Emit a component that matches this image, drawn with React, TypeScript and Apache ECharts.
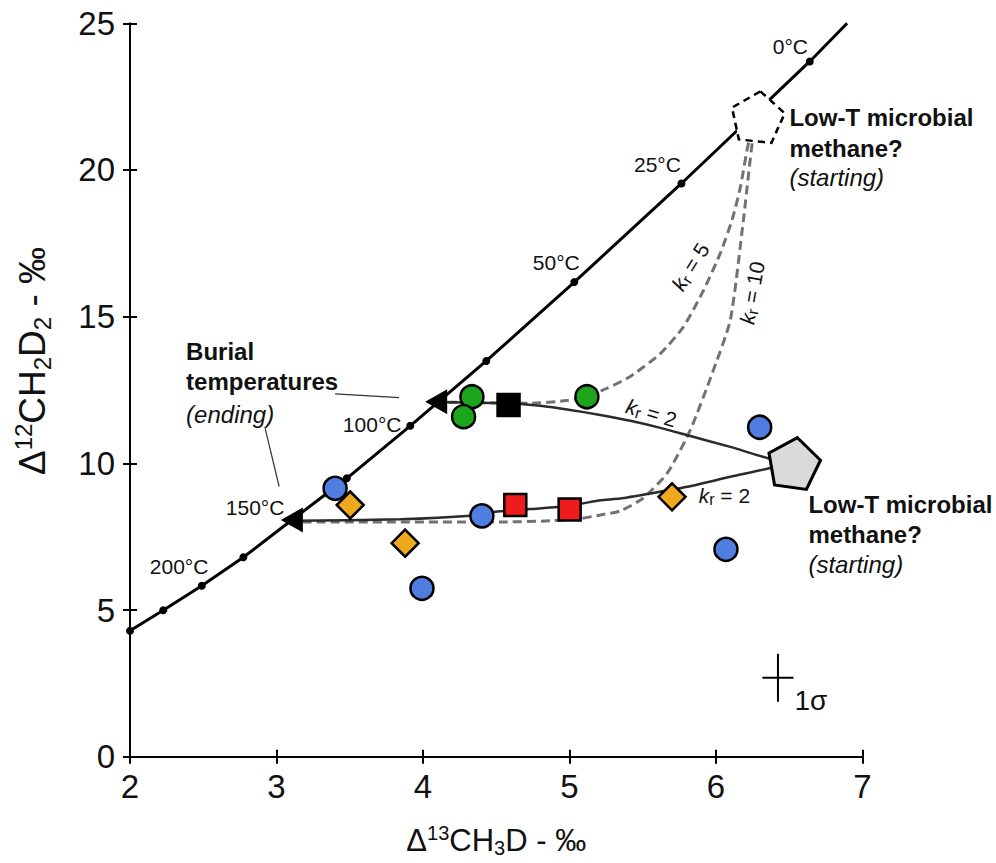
import React, { useEffect, useRef } from 'react';
import * as echarts from 'echarts';

const FONT = '"Liberation Sans", Arial, Helvetica, sans-serif';

// Axis ranges / ticks
const X_MIN = 2, X_MAX = 7, X_STEP = 1;
const Y_MIN = 0, Y_MAX = 25, Y_STEP = 5;

// Equilibrium line (temperature points)
const EQ_TEMPS = [0, 25, 50, 75, 100, 125, 150, 175, 200, 225, 250];
const EQ_X = [6.640, 5.764, 5.033, 4.432, 3.913, 3.480, 3.105, 2.774, 2.490, 2.227, 2.000];
const EQ_Y = [23.70, 19.54, 16.18, 13.49, 11.28, 9.49, 8.07, 6.80, 5.83, 4.99, 4.29];
const EQ_END = [6.895, 25.0];

// Mixing / reordering trajectories (start -> end)
const KR2_UP_X = [6.508, 6.372, 6.098, 5.825, 5.620, 5.415, 5.210, 5.005, 4.801, 4.589, 4.090];
const KR2_UP_Y = [10.05, 10.15, 10.56, 10.93, 11.21, 11.45, 11.65, 11.82, 11.96, 12.04, 12.09];
const KR2_LO_X = [6.508, 6.372, 6.098, 5.805, 5.572, 5.347, 5.210, 5.074, 4.917, 4.732, 4.493, 4.322, 3.844, 3.113];
const KR2_LO_Y = [10.05, 9.84, 9.54, 9.20, 8.99, 8.80, 8.74, 8.62, 8.51, 8.44, 8.35, 8.21, 8.09, 8.04];
const KR5_X = [6.285, 6.224, 6.167, 6.110, 6.030, 5.916, 5.779, 5.622, 5.415, 5.256, 5.119, 4.983, 4.732, 4.090];
const KR5_Y = [21.83, 20.97, 19.43, 18.30, 17.17, 15.91, 14.66, 13.75, 12.96, 12.56, 12.27, 12.14, 12.05, 12.09];
const KR10_X = [6.285, 6.249, 6.187, 6.098, 5.975, 5.825, 5.668, 5.504, 5.347, 5.210, 5.074, 4.869, 4.527, 3.105];
const KR10_Y = [21.83, 20.99, 18.29, 14.89, 13.08, 11.14, 9.67, 8.82, 8.38, 8.24, 8.12, 8.04, 8.00, 8.00];

// Samples
const GREEN_X = [4.334, 4.277, 5.119];
const GREEN_Y = [12.27, 11.59, 12.27];
const BLACK_SQ_X = [4.584];
const BLACK_SQ_Y = [11.99];
const RED_SQ_X = [4.630, 5.001];
const RED_SQ_Y = [8.58, 8.43];
const BLUE_X = [3.400, 4.402, 3.993, 6.298, 6.068];
const BLUE_Y = [9.15, 8.21, 5.74, 11.23, 7.07];
const YELLOW_X = [3.503, 3.878, 5.700];
const YELLOW_Y = [8.58, 7.28, 8.86];

// End-members
const BURIAL_X = [4.090, 3.105];
const BURIAL_Y = [12.10, 8.07];
const LOWT_DASHED = [6.285, 21.83];
const LOWT_GRAY = [6.532, 10.03];

// 1 sigma error bar
const SIGMA_CENTER = [6.423, 2.69];
const SIGMA_HALF_X = 0.106;
const SIGMA_HALF_Y = 0.82;

// Annotation texts and anchors (data coordinates)
const TEMP_LABELS = ['0°C', '25°C', '50°C', '100°C', '150°C', '200°C'];
const TEMP_LABEL_X = [6.508, 5.600, 4.910, 3.653, 2.854, 2.335];
const TEMP_LABEL_Y = [24.21, 20.17, 16.83, 11.31, 8.48, 6.47];

const BURIAL_TEXT = ['Burial', 'temperatures', '(ending)'];
const BURIAL_TEXT_X = 2.383;
const BURIAL_TEXT_Y = [13.80, 12.79, 11.68];

const LOWT_TEXT = ['Low-T microbial', 'methane?', '(starting)'];
const LOWT1_TEXT_X = 6.501;
const LOWT1_TEXT_Y = [21.78, 20.72, 19.73];
const LOWT2_TEXT_X = 6.631;
const LOWT2_TEXT_Y = [8.58, 7.56, 6.54];

const KR_VALUES = ['2', '2', '5', '10'];
const KR_LABEL_X = [5.559, 6.057, 5.825, 6.246];
const KR_LABEL_Y = [11.72, 8.89, 16.70, 15.81];
const KR_LABEL_ROT = [-17, 0, 58, 80];

const LEADER1 = [[3.400, 12.37], [3.837, 12.24]];
const LEADER2 = [[2.922, 11.20], [3.018, 9.21]];

const PENTAGON = 'path://M0,-1 L0.951,-0.309 L0.588,0.809 L-0.588,0.809 L-0.951,-0.309 Z';

const zip = (xs: number[], ys: number[]) => xs.map((x, i) => [x, ys[i]]);

function makeOption() {
  const eqData: any[] = EQ_X.map((x, i) => ({ value: [x, EQ_Y[i]], name: EQ_TEMPS[i] + '°C' }));
  eqData.unshift({ value: EQ_END, symbol: 'none' });

  const axisLineStyle = { color: '#000', width: 2 };
  const textBase = { fontFamily: FONT, color: '#111' };

  const labelPoint = (x: number, y: number, label: any) => ({
    value: [x, y],
    label: { show: true, position: 'inside', verticalAlign: 'middle', fontFamily: FONT, color: '#111', opacity: 1, ...label },
  });

  const annotations: any[] = [];
  TEMP_LABELS.forEach((t, i) =>
    annotations.push(labelPoint(TEMP_LABEL_X[i], TEMP_LABEL_Y[i], { formatter: t, align: 'center', fontSize: 21 }))
  );
  BURIAL_TEXT.forEach((t, i) =>
    annotations.push(
      labelPoint(BURIAL_TEXT_X, BURIAL_TEXT_Y[i], {
        formatter: t,
        align: 'left',
        fontSize: 24,
        fontWeight: i < 2 ? 'bold' : 'normal',
        fontStyle: i < 2 ? 'normal' : 'italic',
      })
    )
  );
  LOWT_TEXT.forEach((t, i) => {
    annotations.push(
      labelPoint(LOWT1_TEXT_X, LOWT1_TEXT_Y[i], {
        formatter: t, align: 'left', fontSize: 24,
        fontWeight: i < 2 ? 'bold' : 'normal', fontStyle: i < 2 ? 'normal' : 'italic',
      })
    );
    annotations.push(
      labelPoint(LOWT2_TEXT_X, LOWT2_TEXT_Y[i], {
        formatter: t, align: 'left', fontSize: 24,
        fontWeight: i < 2 ? 'bold' : 'normal', fontStyle: i < 2 ? 'normal' : 'italic',
      })
    );
  });
  KR_VALUES.forEach((v, i) =>
    annotations.push(
      labelPoint(KR_LABEL_X[i], KR_LABEL_Y[i], {
        formatter: `{k|k}{r|r}{t| = ${v}}`,
        align: 'center',
        rotate: KR_LABEL_ROT[i],
        rich: {
          k: { fontFamily: FONT, fontSize: 21, fontStyle: 'italic', color: '#111', lineHeight: 24 },
          r: { fontFamily: FONT, fontSize: 16, color: '#111', lineHeight: 16, verticalAlign: 'bottom' },
          t: { fontFamily: FONT, fontSize: 21, color: '#111', lineHeight: 24 },
        },
      })
    )
  );
  annotations.push(
    labelPoint(SIGMA_CENTER[0] + 0.112, SIGMA_CENTER[1] - 0.79, { formatter: '1σ', align: 'left', fontSize: 28 })
  );

  const markerBorder = { borderColor: '#000', borderWidth: 2.5, opacity: 1 };

  const axisNameRich = (big: number, small: number, lh: number, supLh: number) => ({
    m: { fontFamily: FONT, fontSize: big, color: '#111', lineHeight: lh },
    sup: { fontFamily: FONT, fontSize: small, color: '#111', lineHeight: supLh, verticalAlign: 'top' },
    sub: { fontFamily: FONT, fontSize: small, color: '#111', lineHeight: small, verticalAlign: 'bottom' },
  });

  return {
    animation: false,
    backgroundColor: '#ffffff',
    grid: { left: 130, right: 133.5, top: 23.3, bottom: 106.3, containLabel: false, outerBoundsMode: 'none' },
    xAxis: [
      {
        type: 'value', min: X_MIN, max: X_MAX, interval: X_STEP, position: 'bottom',
        axisLine: { show: true, onZero: false, lineStyle: axisLineStyle },
        axisTick: { show: true, inside: false, length: 7, lineStyle: axisLineStyle },
        axisLabel: { show: true, margin: 13, fontSize: 33, ...textBase },
        splitLine: { show: false },
        name: '{m|Δ}{sup|13}{m|CH}{sub|3}{m|D - ‰}',
        nameLocation: 'middle',
        nameGap: 66,
        nameTextStyle: { rich: axisNameRich(31, 20, 35, 18) },
      },
      {
        type: 'value', min: X_MIN, max: X_MAX, interval: X_STEP, position: 'bottom',
        axisLine: { show: false, onZero: false },
        axisTick: { show: true, inside: true, length: 7, lineStyle: axisLineStyle },
        axisLabel: { show: false },
        splitLine: { show: false },
      },
    ],
    yAxis: [
      {
        type: 'value', min: Y_MIN, max: Y_MAX, interval: Y_STEP, position: 'left',
        axisLine: { show: true, onZero: false, lineStyle: axisLineStyle },
        axisTick: { show: true, inside: false, length: 7, lineStyle: axisLineStyle },
        axisLabel: { show: true, margin: 15, fontSize: 33, ...textBase },
        splitLine: { show: false },
        name: '{m|Δ}{sup|12}{m|CH}{sub|2}{m|D}{sub|2}{m| - ‰}',
        nameLocation: 'middle',
        nameGap: 76,
        nameRotate: 90,
        nameTextStyle: { rich: axisNameRich(37, 24, 43, 24), padding: [0, 0, 0, 58] },
      },
      {
        type: 'value', min: Y_MIN, max: Y_MAX, interval: Y_STEP, position: 'left',
        axisLine: { show: false, onZero: false },
        axisTick: { show: true, inside: true, length: 7, lineStyle: axisLineStyle },
        axisLabel: { show: false },
        splitLine: { show: false },
      },
    ],
    series: [
      {
        name: 'equilibrium', type: 'line', z: 2, data: eqData,
        symbol: 'circle', symbolSize: 8, showAllSymbol: true,
        itemStyle: { color: '#000', opacity: 1 }, lineStyle: { color: '#000', width: 3 },
      },
      {
        name: 'kr5', type: 'line', z: 3, data: zip(KR5_X, KR5_Y), symbol: 'none', smooth: 0.2,
        lineStyle: { color: '#727272', width: 3, type: [9, 5] },
      },
      {
        name: 'kr10', type: 'line', z: 3, data: zip(KR10_X, KR10_Y), symbol: 'none', smooth: 0.2,
        lineStyle: { color: '#727272', width: 3, type: [9, 5] },
      },
      {
        name: 'kr2 upper', type: 'line', z: 3, data: zip(KR2_UP_X, KR2_UP_Y), symbol: 'none', smooth: 0.2,
        lineStyle: { color: '#2b2b2b', width: 2.5 },
      },
      {
        name: 'kr2 lower', type: 'line', z: 3, data: zip(KR2_LO_X, KR2_LO_Y), symbol: 'none', smooth: 0.2,
        lineStyle: { color: '#2b2b2b', width: 2.5 },
      },
      {
        name: 'leader1', type: 'line', z: 3, data: LEADER1, symbol: 'none',
        lineStyle: { color: '#333', width: 1.2 },
      },
      {
        name: 'leader2', type: 'line', z: 3, data: LEADER2, symbol: 'none',
        lineStyle: { color: '#333', width: 1.2 },
      },
      {
        name: 'sigma-v', type: 'line', z: 3, symbol: 'none',
        data: [[SIGMA_CENTER[0], SIGMA_CENTER[1] - SIGMA_HALF_Y], [SIGMA_CENTER[0], SIGMA_CENTER[1] + SIGMA_HALF_Y]],
        lineStyle: { color: '#000', width: 2 },
      },
      {
        name: 'sigma-h', type: 'line', z: 3, symbol: 'none',
        data: [[SIGMA_CENTER[0] - SIGMA_HALF_X, SIGMA_CENTER[1]], [SIGMA_CENTER[0] + SIGMA_HALF_X, SIGMA_CENTER[1]]],
        lineStyle: { color: '#000', width: 2 },
      },
      {
        name: 'lowT dashed', type: 'scatter', z: 5, data: [LOWT_DASHED],
        symbol: PENTAGON, symbolSize: [53, 50], symbolRotate: -6,
        itemStyle: { color: '#ffffff', borderColor: '#000', borderWidth: 2.5, borderType: [7, 5], opacity: 1 },
      },
      {
        name: 'lowT', type: 'scatter', z: 6, data: [LOWT_GRAY],
        symbol: PENTAGON, symbolSize: [52, 50], symbolRotate: -8,
        itemStyle: { color: '#dadada', borderColor: '#000', borderWidth: 3, opacity: 1 },
      },
      {
        name: 'green', type: 'scatter', z: 6, data: zip(GREEN_X, GREEN_Y), symbol: 'circle', symbolSize: 23,
        itemStyle: { color: '#1ea51e', ...markerBorder },
      },
      {
        name: 'black sq', type: 'scatter', z: 6, data: zip(BLACK_SQ_X, BLACK_SQ_Y), symbol: 'rect', symbolSize: 22,
        itemStyle: { color: '#000', ...markerBorder },
      },
      {
        name: 'red sq', type: 'scatter', z: 6, data: zip(RED_SQ_X, RED_SQ_Y), symbol: 'rect', symbolSize: 22,
        itemStyle: { color: '#ee1c1c', ...markerBorder },
      },
      {
        name: 'blue', type: 'scatter', z: 6, data: zip(BLUE_X, BLUE_Y), symbol: 'circle', symbolSize: 23,
        itemStyle: { color: '#4f7ee0', ...markerBorder },
      },
      {
        name: 'yellow', type: 'scatter', z: 6, data: zip(YELLOW_X, YELLOW_Y), symbol: 'diamond', symbolSize: 27,
        itemStyle: { color: '#efa91f', ...markerBorder },
      },
      {
        name: 'burial', type: 'scatter', z: 7, data: zip(BURIAL_X, BURIAL_Y), symbol: 'triangle',
        symbolSize: [25, 22], symbolRotate: 90,
        itemStyle: { color: '#000', opacity: 1 },
      },
      {
        name: 'annotations', type: 'scatter', z: 8, data: annotations, symbol: 'circle', symbolSize: 1,
        itemStyle: { color: 'rgba(0,0,0,0)', opacity: 1 }, silent: true,
      },
    ],
  };
}

export default function App() {
  const ref = useRef<HTMLDivElement>(null);
  useEffect(() => {
    if (!ref.current) return;
    const chart = echarts.init(ref.current, undefined, { renderer: 'svg' });
    chart.setOption(makeOption() as any);
    return () => chart.dispose();
  }, []);
  return (
    <div
      ref={ref}
      style={{ position: 'fixed', left: 0, top: 0, width: 996, height: 863, background: '#fff' }}
    />
  );
}
